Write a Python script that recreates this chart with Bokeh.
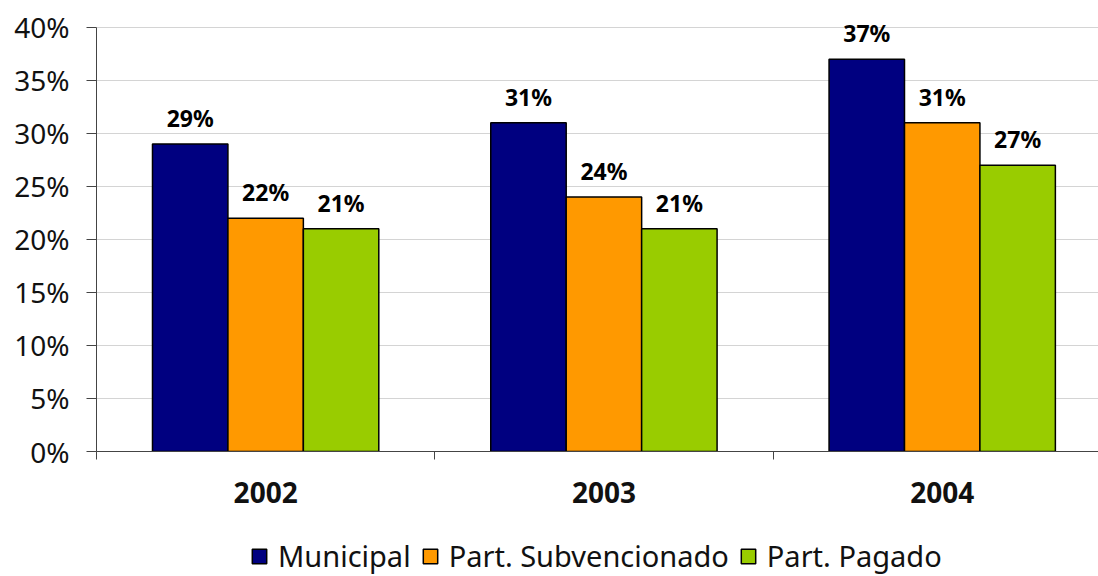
from bokeh.plotting import figure
from bokeh.layouts import column
from bokeh.models import (ColumnDataSource, Range1d, FixedTicker, NumeralTickFormatter,
                          Legend, LegendItem)
from bokeh.core.properties import value
from bokeh.embed import file_html
from bokeh.resources import INLINE

years = ["2002", "2003", "2004"]
series = ["Municipal", "Part. Subvencionado", "Part. Pagado"]
municipal = [0.29, 0.31, 0.37]
subvencionado = [0.22, 0.24, 0.31]
pagado = [0.21, 0.21, 0.27]
colors = ["#000080", "#FF9900", "#99CC00"]
yticks = [0, 0.05, 0.10, 0.15, 0.20, 0.25, 0.30, 0.35, 0.40]

FONT = "Noto Sans"

p = figure(width=1098, height=530, output_backend="svg", toolbar_location=None,
           x_range=Range1d(0, 2.962), y_range=Range1d(0, 0.415),
           min_border_left=96, min_border_right=0, min_border_top=11,
           min_border_bottom=79)
p.outline_line_color = None
p.background_fill_color = "white"
p.border_fill_color = "white"

centers = [0.5 + i for i in range(len(years))]
bw = 0.223
offsets = [-bw, 0.0, bw]
vals = [municipal, subvencionado, pagado]
for s, v, c, off in zip(series, vals, colors, offsets):
    src = ColumnDataSource(dict(x=[cx + off for cx in centers], top=v,
                                lab=["%d%%" % round(t * 100) for t in v]))
    p.vbar(x="x", top="top", width=bw, bottom=0, source=src,
           fill_color=c, line_color="black", line_width=1.5)
    p.text(x="x", y="top", text="lab", source=src, text_align="center",
           text_baseline="bottom", y_offset=-10,
           text_font=value(FONT), text_font_style="bold",
           text_font_size="23px", text_color="black")

# y axis
p.yaxis.ticker = FixedTicker(ticks=yticks)
p.yaxis.bounds = (0, 0.40)
p.yaxis.formatter = NumeralTickFormatter(format="0%")
p.yaxis.major_label_text_font = FONT
p.yaxis.major_label_text_font_size = "28px"
p.yaxis.major_label_text_color = "#111111"
p.yaxis.major_tick_in = 0
p.yaxis.major_tick_out = 10
p.yaxis.minor_tick_line_color = None
p.yaxis.axis_line_color = "#444444"
p.yaxis.major_tick_line_color = "#444444"
p.yaxis.major_label_standoff = 17

# x axis
p.xaxis.ticker = FixedTicker(ticks=centers, minor_ticks=[0, 1, 2, 3])
p.xaxis.major_label_overrides = {c: y for c, y in zip(centers, years)}
p.xaxis.major_tick_line_color = None
p.xaxis.minor_tick_in = 0
p.xaxis.minor_tick_out = 8
p.xaxis.minor_tick_line_color = "#444444"
p.xaxis.axis_line_color = "#444444"
p.xaxis.major_label_text_font = FONT
p.xaxis.major_label_text_font_style = "bold"
p.xaxis.major_label_text_font_size = "28px"
p.xaxis.major_label_text_color = "#111111"
p.xaxis.major_label_standoff = 22

p.xgrid.grid_line_color = None
p.ygrid.ticker = FixedTicker(ticks=yticks)
p.ygrid.grid_line_color = "#D4D4D4"
p.ygrid.grid_line_width = 1

# legend strip
lf = figure(width=1098, height=46, output_backend="svg", toolbar_location=None,
            x_range=Range1d(0, 1), y_range=Range1d(0, 1),
            min_border_left=0, min_border_right=0, min_border_top=0, min_border_bottom=0)
lf.axis.visible = False
lf.grid.visible = False
lf.outline_line_color = None
lf.border_fill_color = "white"
items = []
for s, c in zip(series, colors):
    r = lf.vbar(x=[0.5], top=[0.5], bottom=[0.5], width=0.0,
                fill_color=c, line_color="black", line_width=1.5)
    items.append(LegendItem(label=s, renderers=[r]))
legend = Legend(items=items, orientation="horizontal", location=(154, 1))
legend.label_text_font = FONT
legend.label_text_font_size = "29px"
legend.label_text_color = "#111111"
legend.glyph_width = 18
legend.glyph_height = 18
legend.label_standoff = 10
legend.spacing = 10
legend.border_line_color = None
legend.background_fill_alpha = 0
legend.margin = 0
legend.padding = 0
lf.add_layout(legend, "center")

layout = column(p, lf, spacing=0)
open("out.html", "w").write(file_html(layout, INLINE))
